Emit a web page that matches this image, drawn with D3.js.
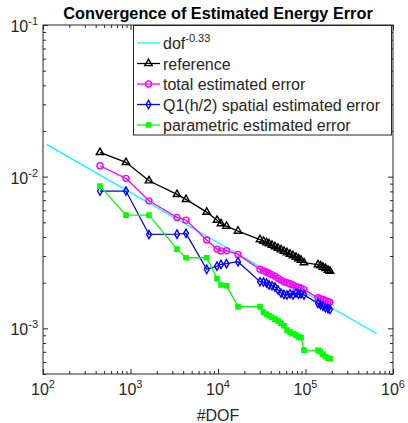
<!DOCTYPE html>
<meta charset="utf-8">
<script src="https://d3js.org/d3.v7.min.js"></script>
<style>
body { margin: 0; background: #fff; }
text { font-family: "Liberation Sans", Arial, sans-serif; fill: #262626; }
</style>
<div id="chart"></div>
<script>
// values
var dof = [448, 888, 1627, 3400, 4309, 7428, 9741, 10823, 12511, 16930,
  30200, 33113, 35840, 38280, 41420, 44820, 48500, 52480, 56790, 61450,
  66500, 71940, 77850, 83180, 88860, 96140, 138950, 148450, 158490, 169330, 180800, 190550];
var reference = [0.01446, 0.01243, 0.0094, 0.00764, 0.00709, 0.00584, 0.00517, 0.0049, 0.00472, 0.00438,
  0.00385, 0.00376, 0.00367, 0.00362, 0.00354, 0.00346, 0.00338, 0.0033, 0.00323, 0.00316,
  0.00309, 0.00302, 0.00295, 0.00288, 0.00282, 0.00271, 0.00263, 0.00259, 0.00253, 0.00248, 0.00242, 0.00238];
var totalErr = [0.0118, 0.00975, 0.00693, 0.00539, 0.00517, 0.00382, 0.00333, 0.00324, 0.00325, 0.00307,
  0.00245, 0.0024, 0.00235, 0.00231, 0.00226, 0.00221, 0.00214, 0.00208, 0.00203, 0.002,
  0.00197, 0.00193, 0.00188, 0.00187, 0.00184, 0.0018, 0.00159, 0.00157, 0.00155, 0.00152, 0.0015, 0.00149];
var spatialErr = [0.00804, 0.00804, 0.00416, 0.00418, 0.00423, 0.00245, 0.00257, 0.00264, 0.00267, 0.00275,
  0.00203, 0.00202, 0.00199, 0.00193, 0.00191, 0.00187, 0.00179, 0.00171, 0.00167, 0.00166,
  0.00169, 0.00166, 0.00171, 0.00168, 0.00169, 0.00166, 0.00146, 0.00143, 0.0014, 0.00137, 0.00135, 0.00133];
var paramErr = [0.00867, 0.00558, 0.00558, 0.00333, 0.00292, 0.00292, 0.00213, 0.00193, 0.00191, 0.00139,
  0.00139, 0.00128, 0.00124, 0.00121, 0.00118, 0.00115, 0.00112, 0.00108, 0.00104, 0.000973,
  0.000944, 0.000923, 0.000902, 0.000879, 0.000869, 0.000718, 0.000715, 0.000702, 0.000676, 0.00065, 0.000636, 0.000631];
var rateDof = [110, 650000];
var rateVal = [0.01632, 0.000925];

var xTicks = [1e2, 1e3, 1e4, 1e5, 1e6];
var xExp = ["2", "3", "4", "5", "6"];
var yTicks = [1e-1, 1e-2, 1e-3];
var yExp = ["-1", "-2", "-3"];

var series = [
  {name: "reference", vals: reference, color: "#000000", marker: "tri"},
  {name: "total estimated error", vals: totalErr, color: "#ff00ff", marker: "circ"},
  {name: "Q1(h/2) spatial estimated error", vals: spatialErr, color: "#0000ff", marker: "diam"},
  {name: "parametric estimated error", vals: paramErr, color: "#00ff00", marker: "sq"}
];

var W = 408, H = 423;
var margin = {top: 25, right: 15, bottom: 49, left: 43},
    width = W - margin.left - margin.right,
    height = H - margin.top - margin.bottom;

var svg = d3.select("#chart").append("svg")
    .attr("width", W)
    .attr("height", H);

var x = d3.scaleLog().domain([1e2, 1e6]).range([margin.left, margin.left + width]);
var y = d3.scaleLog().domain([5e-4, 1e-1]).range([margin.top + height, margin.top]);

var minorX = x.ticks().filter(function(t) { return xTicks.indexOf(t) < 0; });
var minorY = y.ticks().filter(function(t) { return yTicks.indexOf(t) < 0; });

// ticks (inward, all four sides)
function tickAxis(gen, scale, vals, size, tx) {
  svg.append("g")
    .attr("transform", tx)
    .call(gen(scale).tickValues(vals).tickSize(size).tickFormat(""))
    .call(function(g) { g.select(".domain").remove(); g.selectAll("line").attr("stroke", "#262626"); });
}
var bottomT = "translate(0," + (margin.top + height) + ")";
var topT = "translate(0," + margin.top + ")";
var leftT = "translate(" + margin.left + ",0)";
var rightT = "translate(" + (margin.left + width) + ",0)";
tickAxis(d3.axisBottom, x, xTicks, -5, bottomT);
tickAxis(d3.axisBottom, x, minorX, -3, bottomT);
tickAxis(d3.axisTop, x, xTicks, -5, topT);
tickAxis(d3.axisTop, x, minorX, -3, topT);
tickAxis(d3.axisLeft, y, yTicks, -5, leftT);
tickAxis(d3.axisLeft, y, minorY, -3, leftT);
tickAxis(d3.axisRight, y, yTicks, -5, rightT);
tickAxis(d3.axisRight, y, minorY, -3, rightT);

// tick labels with superscripts
xTicks.forEach(function(t, i) {
  var tx = svg.append("text")
    .attr("x", x(t))
    .attr("y", margin.top + height + 21)
    .attr("text-anchor", "middle")
    .style("font-size", "16px");
  tx.append("tspan").text("10");
  tx.append("tspan").attr("dy", -7).style("font-size", "11px").text(xExp[i]);
});
yTicks.forEach(function(t, i) {
  var tx = svg.append("text")
    .attr("x", margin.left - 5)
    .attr("y", y(t) + 7)
    .attr("text-anchor", "end")
    .style("font-size", "16px");
  tx.append("tspan").text("10");
  tx.append("tspan").attr("dy", -7).style("font-size", "11px").text(yExp[i]);
});

svg.append("text")
  .attr("x", margin.left + width / 2)
  .attr("y", 421)
  .attr("text-anchor", "middle")
  .style("font-size", "16px")
  .text("#DOF");

svg.append("text")
  .attr("x", margin.left + width / 2)
  .attr("y", 19)
  .attr("text-anchor", "middle")
  .style("font-size", "16.3px")
  .style("font-weight", "bold")
  .style("fill", "#000")
  .text("Convergence of Estimated Energy Error");

// lines
var line = d3.line()
  .x(function(d) { return x(d[0]); })
  .y(function(d) { return y(d[1]); });

svg.append("path")
  .datum(d3.zip(rateDof, rateVal))
  .attr("d", line)
  .attr("fill", "none")
  .attr("stroke", "#00ffff")
  .attr("stroke-width", 1.3);

function drawMarker(g, kind, cx, cy, color) {
  if (kind === "circ") {
    g.append("circle").attr("cx", cx).attr("cy", cy).attr("r", 3)
      .attr("fill", "none").attr("stroke", color).attr("stroke-width", 1.4);
  } else {
    var s = kind === "tri" ? d3.symbolTriangle : kind === "diam" ? d3.symbolDiamond : d3.symbolSquare;
    var sz = kind === "tri" ? 24 : kind === "diam" ? 20 : 18;
    g.append("path").attr("d", d3.symbol().type(s).size(sz)())
      .attr("transform", "translate(" + cx + "," + cy + ")")
      .attr("fill", kind === "sq" ? color : "none")
      .attr("stroke", color).attr("stroke-width", 1.4);
  }
}

series.forEach(function(s) {
  var pts = d3.zip(dof, s.vals);
  svg.append("path")
    .datum(pts)
    .attr("d", line)
    .attr("fill", "none")
    .attr("stroke", s.color)
    .attr("stroke-width", 1.3);
  var g = svg.append("g");
  pts.forEach(function(p) { drawMarker(g, s.marker, x(p[0]), y(p[1]), s.color); });
});

// axes box
svg.append("rect")
  .attr("x", margin.left).attr("y", margin.top)
  .attr("width", width).attr("height", height)
  .attr("fill", "none").attr("stroke", "#262626").attr("stroke-width", 1);

// legend
var lg = svg.append("g");
lg.append("rect")
  .attr("x", 133.5).attr("y", 25.5)
  .attr("width", 258).attr("height", 109.5)
  .attr("fill", "#fff").attr("stroke", "#262626").attr("stroke-width", 1);
var legendItems = [{name: "dof", color: "#00ffff", marker: null}].concat(series);
legendItems.forEach(function(s, i) {
  var cy = 43 + i * 20.5;
  lg.append("line").attr("x1", 137).attr("x2", 160).attr("y1", cy).attr("y2", cy)
    .attr("stroke", s.color).attr("stroke-width", 1.3);
  if (s.marker) drawMarker(lg, s.marker, 148.5, cy, s.color);
  var t = lg.append("text").attr("x", 163).attr("y", cy + 6).style("font-size", "16px");
  t.append("tspan").text(s.name);
  if (i === 0) t.append("tspan").attr("dy", -7).style("font-size", "11px").text("-0.33");
});
</script>
